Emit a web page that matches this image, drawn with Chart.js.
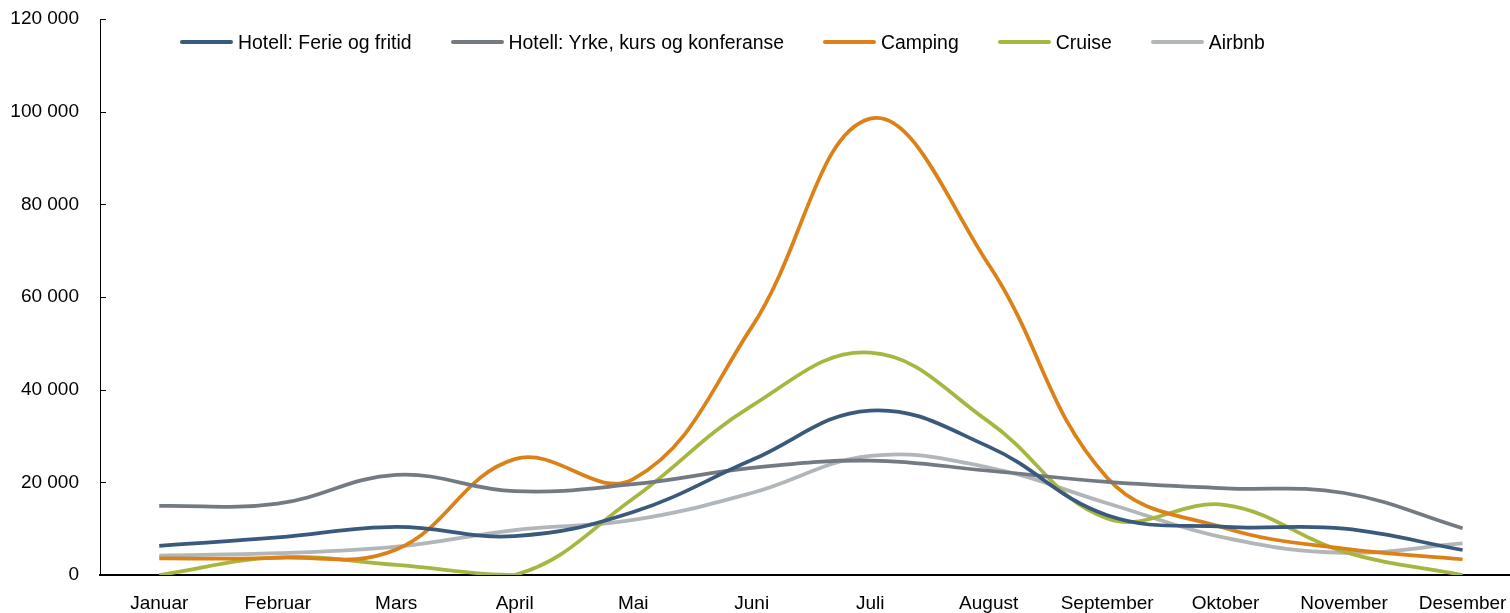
<!DOCTYPE html>
<html>
<head>
<meta charset="utf-8">
<script src="https://cdn.jsdelivr.net/npm/chart.js@4.4.1/dist/chart.umd.min.js"></script>
<style>
  html, body { margin: 0; padding: 0; background: #fff; }
  #wrap { position: relative; width: 1510px; height: 613px; }
  #legend {
    position: absolute; left: 180px; top: 30px;
    display: flex; gap: 39px;
    font: 19.4px "Liberation Sans", Arial, sans-serif; color: #000; line-height: 24px;
  }
  #legend .item { display: flex; align-items: center; white-space: nowrap; }
  #legend .swatch { width: 53px; height: 4px; border-radius: 2px; margin-right: 5px; }
</style>
</head>
<body>
<div id="wrap">
  <canvas id="chart" width="1510" height="613"></canvas>
  <div id="legend"></div>
</div>
<script>
/* --------------- Data --------------------- */
const months = ["Januar", "Februar", "Mars", "April", "Mai", "Juni", "Juli",
  "August", "September", "Oktober", "November", "Desember"];

const hotellFerie = [6300, 8100, 10400, 8400, 13600, 24800, 35500, 27700, 12900, 10400, 10000, 5400];
const hotellYrke  = [14900, 15400, 21600, 18100, 19600, 23100, 24700, 22500, 20100, 18700, 17700, 10100];
const camping     = [3600, 3700, 5500, 25000, 20700, 53500, 98500, 67000, 21000, 10100, 5700, 3400];
const cruise      = [0, 3800, 2200, 0, 16500, 36500, 48000, 33100, 12200, 15100, 5000, 0];
const airbnb      = [4200, 4700, 6100, 9700, 11900, 17700, 25700, 23200, 15500, 8000, 4800, 6800];

const yTicks = [0, 20000, 40000, 60000, 80000, 100000, 120000];

/* --------------- Series setup --------------------- */
const series = [
  { label: "Hotell: Ferie og fritid", data: hotellFerie, color: "#395a7c" },
  { label: "Hotell: Yrke, kurs og konferanse", data: hotellYrke, color: "#737a81" },
  { label: "Camping", data: camping, color: "#dc8117" },
  { label: "Cruise", data: cruise, color: "#a7b640" },
  { label: "Airbnb", data: airbnb, color: "#b1b6bb" },
];

const fmt = (v) => String(v).replace(/\B(?=(\d{3})+(?!\d))/g, " ");
const FONT = { family: "'Liberation Sans', Arial, sans-serif", size: 19 };

// small tick marks on the inside of the y axis
const innerTicks = {
  id: "innerTicks",
  afterDraw(chart) {
    const y = chart.scales.y;
    const ctx = chart.ctx;
    ctx.save();
    ctx.strokeStyle = "#000";
    ctx.lineWidth = 1;
    y.ticks.forEach((t) => {
      const py = Math.round(y.getPixelForValue(t.value)) + 0.5;
      ctx.beginPath();
      ctx.moveTo(y.right, py);
      ctx.lineTo(y.right + 6, py);
      ctx.stroke();
    });
    ctx.restore();
  },
};

const chart = new Chart(document.getElementById("chart"), {
  type: "line",
  plugins: [innerTicks],
  data: {
    datasets: series.map((s) => ({
      label: s.label,
      data: s.data.map((v, i) => ({ x: i, y: v })),
      borderColor: s.color,
      backgroundColor: s.color,
      borderWidth: 3.75,
      pointRadius: 0,
      tension: 0.4,
      fill: false,
    })),
  },
  options: {
    responsive: false,
    animation: false,
    devicePixelRatio: 1,
    layout: { padding: { top: 19, right: 0, bottom: 0, left: 0 } },
    plugins: {
      legend: { display: false },
      tooltip: { enabled: false },
    },
    scales: {
      x: {
        type: "linear",
        min: -0.5,
        max: 11.4,
        afterBuildTicks: (axis) => { axis.ticks = months.map((m, i) => ({ value: i })); },
        afterFit: (axis) => {
          axis.height = 38;
          axis.paddingLeft = 0;
          axis.paddingRight = 0;
        },
        grid: { display: false },
        border: { display: true, color: "#000", width: 2 },
        ticks: {
          autoSkip: false,
          maxRotation: 0,
          padding: 9,
          color: "#000",
          font: FONT,
          callback: (v) => months[Math.round(v)],
        },
      },
      y: {
        min: 0,
        max: 120000,
        afterBuildTicks: (axis) => { axis.ticks = yTicks.map((v) => ({ value: v })); },
        afterFit: (axis) => {
          axis.width = 100;
          axis.paddingTop = 0;
          axis.paddingBottom = 0;
        },
        grid: { display: false },
        border: { display: true, color: "#000", width: 1 },
        ticks: {
          padding: 13,
          color: "#000",
          font: FONT,
          callback: (v) => fmt(v),
        },
      },
    },
  },
});

/* --------------- Legend --------------------- */
const legendEl = document.getElementById("legend");
series.forEach((s) => {
  const item = document.createElement("div");
  item.className = "item";
  const sw = document.createElement("span");
  sw.className = "swatch";
  sw.style.background = s.color;
  const txt = document.createElement("span");
  txt.textContent = s.label;
  item.appendChild(sw);
  item.appendChild(txt);
  legendEl.appendChild(item);
});
</script>
</body>
</html>
